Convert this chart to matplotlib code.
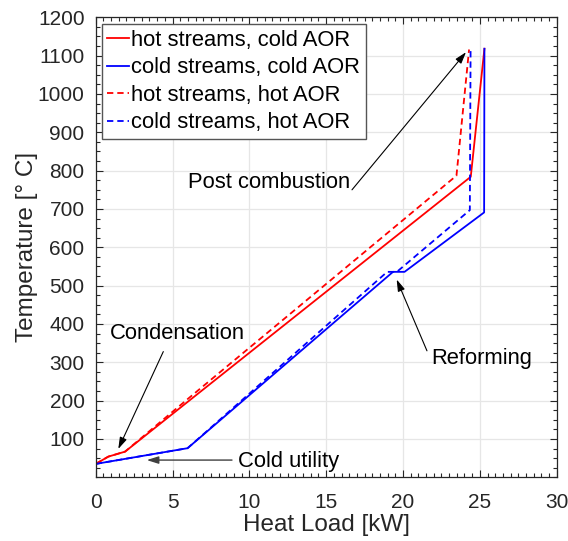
import matplotlib
matplotlib.use("Agg")
import matplotlib.pyplot as plt
from matplotlib.ticker import MultipleLocator

plt.rcParams['font.family'] = ['Liberation Sans', 'DejaVu Sans']

# Composite curves: heat load [kW] vs temperature [°C]
hot_cold_aor_x = [0, 0.82, 1.91, 24.41, 25.3]
hot_cold_aor_t = [35, 54, 67, 784, 1118]

cold_cold_aor_x = [0, 5.98, 19.35, 20.1, 25.28, 25.3]
cold_cold_aor_t = [35, 76, 536, 536, 691, 1118]

hot_hot_aor_x = [0, 0.82, 1.91, 6.07, 23.48, 24.3]
hot_hot_aor_t = [35, 54, 67, 207, 787, 1116]

cold_hot_aor_x = [0, 5.98, 18.97, 19.6, 24.35, 24.4]
cold_hot_aor_t = [35, 76, 536, 536, 697, 1120]

series_labels = ["hot streams, cold AOR", "cold streams, cold AOR",
                 "hot streams, hot AOR", "cold streams, hot AOR"]

x_label = "Heat Load [kW]"
y_label = "Temperature [° C]"

dark = "#262626"
fig = plt.figure(figsize=(5.68, 5.41), dpi=100)
ax = fig.add_axes([0.1685, 0.1177, 0.8115, 0.8503])

dash = (0, (3.5, 2.2))
lw = 1.3
ax.plot(hot_cold_aor_x, hot_cold_aor_t, color="#ff0000", lw=lw, label=series_labels[0])
ax.plot(cold_cold_aor_x, cold_cold_aor_t, color="#0000ff", lw=lw, label=series_labels[1])
ax.plot(hot_hot_aor_x, hot_hot_aor_t, color="#ff0000", lw=lw, ls=dash, label=series_labels[2])
ax.plot(cold_hot_aor_x, cold_hot_aor_t, color="#0000ff", lw=lw, ls=dash, label=series_labels[3])

ax.set_xlim(0, 30)
ax.set_ylim(0, 1200)
ax.xaxis.set_major_locator(MultipleLocator(5))
ax.xaxis.set_minor_locator(MultipleLocator(0.5))
ax.set_yticks(range(100, 1201, 100))
ax.yaxis.set_minor_locator(MultipleLocator(25))
ax.tick_params(which="both", direction="in", top=True, right=True, colors=dark,
               labelsize=15, width=0.8)
ax.tick_params(which="major", length=5)
ax.tick_params(which="minor", length=3)
ax.tick_params(axis="x", pad=11)
ax.tick_params(axis="y", pad=8)
ax.grid(True, which="major", color="#e6e6e6", lw=0.9)
ax.set_axisbelow(True)
for s in ax.spines.values():
    s.set_color(dark)
    s.set_linewidth(0.9)

ax.set_xlabel(x_label, fontsize=17.5, color=dark, labelpad=2)
ax.set_ylabel(y_label, fontsize=17.5, color=dark, labelpad=0)

leg = ax.legend(loc="upper left", bbox_to_anchor=(0.013, 0.985), fontsize=15.8,
                handlelength=1.0, handletextpad=0.1, borderpad=0.25,
                labelspacing=0.3, fancybox=False, framealpha=1, borderaxespad=0)
leg.get_frame().set_edgecolor("#555555")
leg.get_frame().set_linewidth(1.0)
for t in leg.get_texts():
    t.set_color("black")

arrow = dict(arrowstyle="-|>,head_length=0.7,head_width=0.22", color="black",
             lw=0.8, shrinkA=0, shrinkB=0)
ax.annotate("", xy=(24.1, 1109), xytext=(16.68, 750), arrowprops=arrow)
ax.text(11.28, 768, "Post combustion", fontsize=15.8, ha="center", va="center")

ax.annotate("", xy=(19.59, 516), xytext=(21.56, 330), arrowprops=arrow)
ax.text(25.1, 311, "Reforming", fontsize=15.8, ha="center", va="center")

ax.annotate("", xy=(1.47, 74), xytext=(4.40, 328), arrowprops=arrow)
ax.text(5.32, 374, "Condensation", fontsize=15.8, ha="center", va="center")

gray_arrow = dict(arrowstyle="-|>,head_length=0.7,head_width=0.22", color="#404040",
                  lw=1.0, shrinkA=0, shrinkB=0)
ax.annotate("", xy=(3.32, 45), xytext=(8.87, 45), arrowprops=gray_arrow)
ax.text(12.58, 42, "Cold utility", fontsize=15.8, ha="center", va="center")

fig.savefig("out.png", dpi=100)
